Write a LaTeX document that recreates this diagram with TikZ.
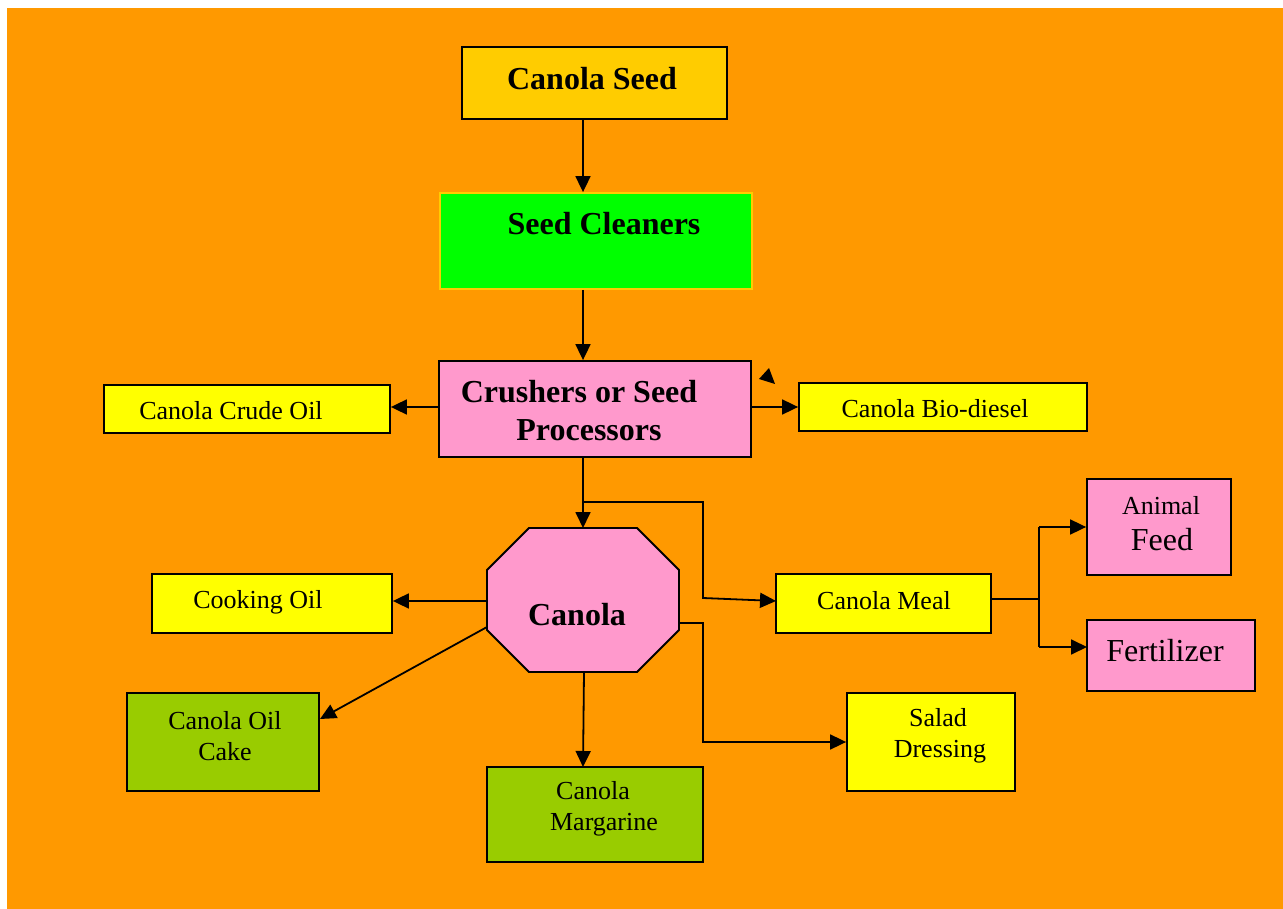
\documentclass[tikz,border=0pt]{standalone}
\usepackage{fontspec}
\setmainfont{Liberation Serif}
\usetikzlibrary{arrows.meta}
\definecolor{bgorange}{HTML}{FF9900}
\definecolor{gold}{HTML}{FFCC00}
\definecolor{brightgreen}{HTML}{00FF00}
\definecolor{pinkbox}{HTML}{FF99CC}
\definecolor{yellowbox}{HTML}{FFFF00}
\definecolor{olivegreen}{HTML}{99CC00}
\tikzset{
  box/.style={draw=black, line width=1.8pt, rectangle, inner sep=0pt},
  arr/.style={draw=black, line width=1.8pt, -{Triangle[length=16pt,width=15pt]}},
  conn/.style={draw=black, line width=1.8pt},
  bigbold/.style={font=\fontsize{32}{38}\selectfont\bfseries, align=center, inner sep=0pt},
  small/.style={font=\fontsize{26}{31}\selectfont, align=center, inner sep=0pt},
  large/.style={font=\fontsize{32}{38}\selectfont, align=center, inner sep=0pt},
}
\begin{document}
\begin{tikzpicture}[x=1pt,y=-1pt]
\useasboundingbox (0,0) rectangle (1283,909);
\fill[white] (0,0) rectangle (1283,909);
\fill[bgorange] (7,8) rectangle (1284,910);

% boxes
\node[box, fill=gold, minimum width=265pt, minimum height=72pt] (seed) at (594.5,83) {};
\node[box, draw=gold, fill=brightgreen, minimum width=312pt, minimum height=96pt] (clean) at (596,241) {};
\node[box, fill=pinkbox, minimum width=312pt, minimum height=96pt] (crush) at (595,409) {};
\node[box, fill=yellowbox, minimum width=286pt, minimum height=48pt] (crude) at (247,409) {};
\node[box, fill=yellowbox, minimum width=288pt, minimum height=48pt] (bio) at (943,407) {};
\node[box, fill=yellowbox, minimum width=240pt, minimum height=59pt] (cooking) at (272,603.5) {};
\node[box, fill=olivegreen, minimum width=192pt, minimum height=98pt] (cake) at (223,742) {};
\node[box, fill=olivegreen, minimum width=216pt, minimum height=95pt] (margarine) at (595,814.5) {};
\node[box, fill=yellowbox, minimum width=168pt, minimum height=98pt] (salad) at (931,742) {};
\node[box, fill=yellowbox, minimum width=215pt, minimum height=59pt] (meal) at (883.5,603.5) {};
\node[box, fill=pinkbox, minimum width=144pt, minimum height=96pt] (animal) at (1159,527) {};
\node[box, fill=pinkbox, minimum width=168pt, minimum height=71pt] (fert) at (1171,655.5) {};

% octagon
\coordinate (o1) at (529,528);
\coordinate (o2) at (637,528);
\coordinate (o3) at (679,570);
\coordinate (o4) at (679,630);
\coordinate (o5) at (637,672);
\coordinate (o6) at (529,672);
\coordinate (o7) at (487,630);
\coordinate (o8) at (487,570);
\filldraw[fill=pinkbox, draw=black, line width=1.8pt, line join=miter]
  (o1) -- (o2) -- (o3) -- (o4) -- (o5) -- (o6) -- (o7) -- (o8) -- cycle;

% texts
\node[bigbold] (tseed) at (592,79) {Canola Seed};
\node[bigbold] (tclean) at (604,224) {Seed Cleaners};
\node[bigbold] (tcrush) at (579,411) {Crushers or Seed\\\hspace*{20pt}Processors};
\node[small] (tcrude) at (231,411) {Canola Crude Oil};
\node[small] (tbio) at (935,409) {Canola Bio-diesel};
\node[bigbold] (tcanola) at (577,615) {Canola};
\node[small] (tcooking) at (258,602) {Cooking Oil};
\node[small] (tcake) at (225,736) {Canola Oil\\Cake};
\node[small] (tmarg) at (593,809) {Canola\\\hspace*{22pt}Margarine};
\node[small] (tsalad) at (938,736) {Salad\\\hspace*{4pt}Dressing};
\node[small] (tmeal) at (884,601) {Canola Meal};
\node[small] (tanimal) at (1161,506) {Animal};
\node[large] (tfeed) at (1162,540) {Feed};
\node[large] (tfert) at (1165,651) {Fertilizer};

% helper coordinates
\coordinate (mx) at (583,0);
\coordinate (ry) at (0,407);
\coordinate (br) at (583,502);
\coordinate (b1) at (703,502);
\coordinate (b2) at (703,598);
\coordinate (mealin) at (776,601);
\coordinate (cookout) at (487,601);
\coordinate (cakeout) at (487,627);
\coordinate (cakein) at (320,719);
\coordinate (margout) at (584,672);
\coordinate (margin) at (583,767);
\coordinate (saladout) at (679,623);
\coordinate (s1) at (703,623);
\coordinate (s2) at (703,742);
\coordinate (mealout) at (991,599);
\coordinate (fork) at (1039,599);
\coordinate (forktop) at (1039,527);
\coordinate (forkbot) at (1039,647);
\coordinate (fertin) at (1087,647);
\coordinate (stray1) at (769,368);
\coordinate (stray2) at (759,379);
\coordinate (stray3) at (775,384);

% connectors
\draw[arr] (seed.south -| mx) -- (clean.north -| mx);
\draw[arr] (clean.south -| mx) -- (crush.north -| mx);
\draw[arr] (crush.west |- ry) -- (crude.east |- ry);
\draw[arr] (crush.east |- ry) -- (bio.west |- ry);
\draw[arr] (crush.south -| mx) -- (o1 -| mx);
\draw[arr] (br) -- (b1) -- (b2) -- (mealin);
\draw[arr] (cookout) -- (cooking.east |- cookout);
\draw[arr] (cakeout) -- (cakein);
\draw[arr] (margout) -- (margin);
\draw[arr] (saladout) -- (s1) -- (s2) -- (salad.west);
\draw[conn] (mealout) -- (fork);
\draw[conn] (forktop) -- (forkbot);
\draw[arr] (forktop) -- (animal.west);
\draw[arr] (forkbot) -- (fertin);
\fill[black] (stray1) -- (stray2) -- (stray3) -- cycle;
\end{tikzpicture}
\end{document}
